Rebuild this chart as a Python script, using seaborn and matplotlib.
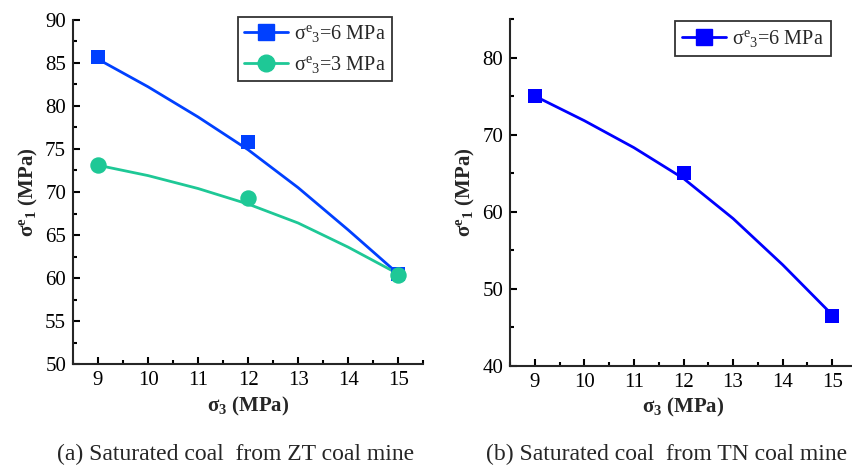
import seaborn as sns
import numpy as np
import pandas as pd
import matplotlib
matplotlib.use("Agg")
import matplotlib.pyplot as plt
from matplotlib.lines import Line2D
from matplotlib.ticker import MultipleLocator

# measured points
sigma3 = [9, 12, 15]
zt_6 = [85.6, 75.8, 60.5]
zt_3 = [73.1, 69.3, 60.4]
tn_6 = [75.0, 65.0, 46.5]

# fitted curves
fit_x = [9, 10, 11, 12, 13, 14, 15]
zt_6_fit = [85.4, 82.2, 78.7, 74.9, 70.5, 65.6, 60.5]
zt_3_fit = [73.1, 71.9, 70.4, 68.6, 66.4, 63.6, 60.5]
tn_6_fit = [75.0, 71.8, 68.3, 64.3, 59.1, 53.1, 46.6]

labels_zt = [r"$\mathrm{\sigma^{e}{}_{3}}$=6 MPa", r"$\mathrm{\sigma^{e}{}_{3}}$=3 MPa"]
label_tn = r"$\mathrm{\sigma^{e}{}_{3}}$=6 MPa"
captions = ["(a) Saturated coal  from ZT coal mine", "(b) Saturated coal  from TN coal mine"]

blue = "#0040ff"
green = "#1ec896"
blue2 = "#0000ff"

sns.set_style("ticks")
plt.rcParams["font.family"] = ["Liberation Serif", "DejaVu Serif"]
plt.rcParams["mathtext.fontset"] = "custom"
plt.rcParams["mathtext.rm"] = "Liberation Serif"
plt.rcParams["mathtext.it"] = "Liberation Serif:italic"
plt.rcParams["mathtext.bf"] = "Liberation Serif:bold"
plt.rcParams["axes.linewidth"] = 1.5

fig = plt.figure(figsize=(8.52, 4.68), dpi=100)
ax1 = fig.add_axes([0.0857, 0.2214, 0.411, 0.7368])
ax2 = fig.add_axes([0.5986, 0.2186, 0.4073, 0.7408])

df_pts = pd.DataFrame({"s3": sigma3, "zt6": zt_6, "zt3": zt_3, "tn6": tn_6})
df_fit = pd.DataFrame({"s3": fit_x, "zt6": zt_6_fit, "zt3": zt_3_fit, "tn6": tn_6_fit})

# (a)
sns.lineplot(data=df_fit, x="s3", y="zt6", ax=ax1, color=blue, linewidth=2.0)
sns.lineplot(data=df_fit, x="s3", y="zt3", ax=ax1, color=green, linewidth=2.0)
sns.scatterplot(data=df_pts, x="s3", y="zt6", ax=ax1, color=blue, marker="s", s=110, linewidth=0, zorder=3)
sns.scatterplot(data=df_pts, x="s3", y="zt3", ax=ax1, color=green, marker="o", s=140, linewidth=0, zorder=3)
ax1.set_xlim(8.5, 15.5)
ax1.set_ylim(50, 90)
ax1.yaxis.set_major_locator(MultipleLocator(5))
ax1.yaxis.set_minor_locator(MultipleLocator(2.5))

# (b)
sns.lineplot(data=df_fit, x="s3", y="tn6", ax=ax2, color=blue2, linewidth=2.0)
sns.scatterplot(data=df_pts, x="s3", y="tn6", ax=ax2, color=blue2, marker="s", s=110, linewidth=0, zorder=3)
ax2.set_xlim(8.5, 15.5)
ax2.set_ylim(40, 85)
ax2.yaxis.set_major_locator(MultipleLocator(10))
ax2.yaxis.set_minor_locator(MultipleLocator(5))

for ax in (ax1, ax2):
    sns.despine(ax=ax)
    ax.xaxis.set_major_locator(MultipleLocator(1))
    ax.xaxis.set_minor_locator(MultipleLocator(0.5))
    ax.tick_params(which="both", direction="in", width=1.5, labelsize=15, colors="black")
    ax.tick_params(which="major", length=5, pad=5)
    ax.tick_params(which="minor", length=3)
    ax.set_xlabel(r"$\mathbf{\sigma_{3}}$ (MPa)", fontsize=15, fontweight="bold", labelpad=3)
    ax.set_ylabel(r"$\mathbf{\sigma^{e}{}_{1}}$ (MPa)", fontsize=15, fontweight="bold", labelpad=4)

h1 = Line2D([], [], color=blue, marker="s", markersize=11, linewidth=2.0)
h2 = Line2D([], [], color=green, marker="o", markersize=12, linewidth=2.0)
leg1 = ax1.legend([h1, h2], labels_zt, loc="upper right", bbox_to_anchor=(0.911, 1.007),
                  fontsize=14.5, frameon=True, fancybox=False, edgecolor="black",
                  handlelength=2.2, handletextpad=0.3, borderpad=0.3, labelspacing=0.5,
                  borderaxespad=0)
leg1.get_frame().set_linewidth(1.3)

h3 = Line2D([], [], color=blue2, marker="s", markersize=11, linewidth=2.0)
leg2 = ax2.legend([h3], [label_tn], loc="upper right", bbox_to_anchor=(0.925, 0.994),
                  fontsize=14.5, frameon=True, fancybox=False, edgecolor="black",
                  handlelength=2.2, handletextpad=0.3, borderpad=0.35, borderaxespad=0)
leg2.get_frame().set_linewidth(1.3)

fig.text(57 / 852, 0.028, captions[0], fontsize=17, ha="left", va="center")
fig.text(486 / 852, 0.028, captions[1], fontsize=17, ha="left", va="center")

fig.savefig("out.png", dpi=100)
